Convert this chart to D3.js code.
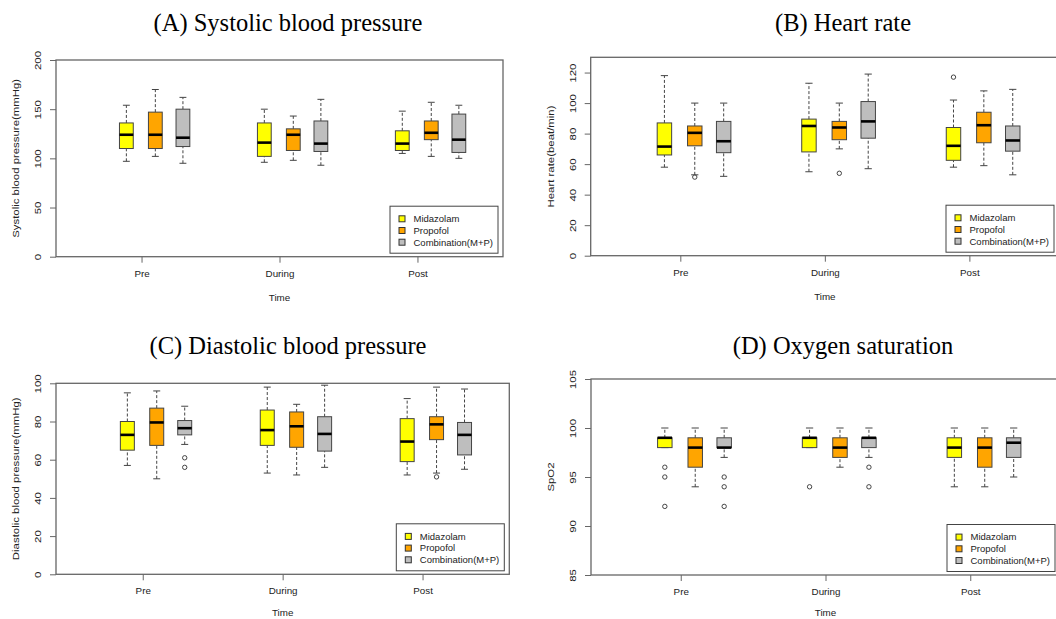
<!DOCTYPE html>
<html>
<head>
<meta charset="utf-8">
<script src="https://cdn.jsdelivr.net/npm/d3@7"></script>
<style>
  body { margin: 0; background: #fff; }
  svg { display: block; font-family: "Liberation Sans", Arial, sans-serif; }
</style>
</head>
<body>
<div id="chart"></div>
<script>
// groups on the x axis and the three drugs
const groups = ["Pre", "During", "Post"];
const drugs = ["Midazolam", "Propofol", "Combination(M+P)"];

// box stats: [lower whisker, Q1, median, Q3, upper whisker]
// order: Pre M, P, C, During M, P, C, Post M, P, C
const sbpBoxes = [
  [97, 110, 124, 136, 154], [102, 110, 124, 147, 170], [95, 112, 121, 150, 162],
  [96, 102, 116, 136, 150], [98, 108, 124, 130, 143], [93, 107, 115, 138, 160],
  [105, 108, 115, 128, 148], [102, 119, 126, 138, 157], [100, 106, 119, 145, 154]
];
const sbpOutliers = [];

const hrBoxes = [
  [58, 66, 71.5, 87, 118], [53, 72, 80.5, 85, 100], [52, 67.5, 75, 88, 100],
  [55, 68, 85, 89.5, 113], [70, 76, 84, 88, 100], [57, 77, 88, 101, 119],
  [58, 62.5, 72, 84, 102], [59, 74, 85.5, 94, 108], [53, 68.5, 75.5, 85, 109]
];
// [box index, value]
const hrOutliers = [[1, 51.5], [4, 54], [6, 117]];

const dbpBoxes = [
  [57, 65, 73, 80, 95], [50, 67.5, 79.5, 87, 96], [68, 73, 76.5, 80.5, 88],
  [53, 67.5, 75.5, 86, 98], [52, 66.5, 77.5, 85, 89], [56, 64.5, 73.5, 82.5, 99],
  [52, 59, 69.5, 81.5, 92], [53, 70.5, 78.5, 82.5, 98], [55, 62.5, 73, 79.5, 97]
];
const dbpOutliers = [[2, 61], [2, 56], [7, 51]];

const spo2Boxes = [
  [98, 98, 99, 99, 100], [94, 96, 98, 99, 100], [97, 98, 98, 99, 100],
  [98, 98, 99, 99, 100], [96, 97, 98, 99, 100], [97, 98, 99, 99, 100],
  [94, 97, 98, 99, 100], [94, 96, 98, 99, 100], [95, 97, 98.5, 99, 100]
];
const spo2Outliers = [[0, 96], [0, 95], [0, 92], [2, 95], [2, 94], [2, 92], [3, 94], [5, 96], [5, 94]];

const sbpTicks = [0, 50, 100, 150, 200];
const hrTicks = [0, 20, 40, 60, 80, 100, 120];
const dbpTicks = [0, 20, 40, 60, 80, 100];
const spo2Ticks = [85, 90, 95, 100, 105];

const fillColors = ["#ffff00", "#ffa500", "#bebebe"];
const offsets = [-0.11, 0.1, 0.3];   // box position inside a group, in x units
const boxWex = 0.1;

const svg = d3.select("#chart").append("svg")
    .attr("width", 1056)
    .attr("height", 619);

svg.append("rect").attr("width", 1056).attr("height", 619).attr("fill", "#fff");

const panels = [
  { title: "(A) Systolic blood pressure", titleX: 288, titleY: 31, ylab: "Systolic blood pressure(mmHg)",
    left: 56, right: 503, top: 60, bottom: 256.7, domain: [0, 200], ticks: sbpTicks,
    boxes: sbpBoxes, outliers: sbpOutliers, timeGap: 44 },
  { title: "(B) Heart rate", titleX: 843, titleY: 31, ylab: "Heart rate(beat/min)",
    left: 590.7, right: 1059, top: 57.3, bottom: 255.7, domain: [0, 130], ticks: hrTicks,
    boxes: hrBoxes, outliers: hrOutliers, timeGap: 44 },
  { title: "(C) Diastolic blood pressure", titleX: 288, titleY: 354, ylab: "Diastolic blood pressure(mmHg)",
    left: 56, right: 509.3, top: 383.3, bottom: 574.3, domain: [0, 100], ticks: dbpTicks,
    boxes: dbpBoxes, outliers: dbpOutliers, timeGap: 42 },
  { title: "(D) Oxygen saturation", titleX: 843, titleY: 354, ylab: "SpO2",
    left: 591, right: 1060, top: 379, bottom: 575, domain: [85, 105], ticks: spo2Ticks,
    boxes: spo2Boxes, outliers: spo2Outliers, timeGap: 41 }
];

panels.forEach(drawPanel);

function drawPanel(p) {
  const g = svg.append("g");
  const x = d3.scaleLinear().domain([0.38, 3.62]).range([p.left, p.right]);
  const y = d3.scaleLinear().domain(p.domain).range([p.bottom, p.top]);

  // title
  g.append("text")
      .attr("x", p.titleX)
      .attr("y", p.titleY)
      .attr("text-anchor", "middle")
      .style("font-family", "'Liberation Serif', 'Times New Roman', serif")
      .style("font-size", "24.5px")
      .attr("fill", "#000")
      .text(p.title);

  const boxes = p.boxes.map((s, i) => ({
    stats: s,
    pos: Math.floor(i / 3) + 1 + offsets[i % 3],
    color: fillColors[i % 3]
  }));

  const bw = x(boxWex) - x(0);
  const b = g.selectAll(".box").data(boxes).enter().append("g").attr("class", "box");

  // whiskers
  b.append("line")
      .attr("x1", d => x(d.pos)).attr("x2", d => x(d.pos))
      .attr("y1", d => y(d.stats[3])).attr("y2", d => y(d.stats[4]))
      .attr("stroke", "#444").attr("stroke-dasharray", "3,2");
  b.append("line")
      .attr("x1", d => x(d.pos)).attr("x2", d => x(d.pos))
      .attr("y1", d => y(d.stats[0])).attr("y2", d => y(d.stats[1]))
      .attr("stroke", "#444").attr("stroke-dasharray", "3,2");
  // staples
  [0, 4].forEach(k => {
    b.append("line")
        .attr("x1", d => x(d.pos) - bw / 4).attr("x2", d => x(d.pos) + bw / 4)
        .attr("y1", d => y(d.stats[k])).attr("y2", d => y(d.stats[k]))
        .attr("stroke", "#444");
  });
  // box
  b.append("rect")
      .attr("x", d => x(d.pos) - bw / 2)
      .attr("width", bw)
      .attr("y", d => y(d.stats[3]))
      .attr("height", d => y(d.stats[1]) - y(d.stats[3]))
      .attr("fill", d => d.color)
      .attr("stroke", "#444");
  // median
  b.append("line")
      .attr("x1", d => x(d.pos) - bw / 2).attr("x2", d => x(d.pos) + bw / 2)
      .attr("y1", d => y(d.stats[2])).attr("y2", d => y(d.stats[2]))
      .attr("stroke", "#000").attr("stroke-width", 2.6);

  // outliers
  g.selectAll(".out").data(p.outliers).enter().append("circle")
      .attr("class", "out")
      .attr("cx", d => x(boxes[d[0]].pos))
      .attr("cy", d => y(d[1]))
      .attr("r", 2.2)
      .attr("fill", "none")
      .attr("stroke", "#444");

  // frame
  g.append("rect")
      .attr("x", p.left).attr("y", p.top)
      .attr("width", p.right - p.left).attr("height", p.bottom - p.top)
      .attr("fill", "none").attr("stroke", "#666").attr("stroke-width", 1.3);

  // y axis
  const ya = g.append("g")
      .attr("transform", `translate(${p.left},0)`)
      .call(d3.axisLeft(y).tickValues(p.ticks).tickSize(6).tickSizeOuter(0));
  ya.select(".domain").remove();
  ya.selectAll(".tick line").attr("stroke", "#666");
  ya.selectAll(".tick text")
      .attr("x", null).attr("dy", "0.35em")
      .attr("transform", "translate(-18,0) rotate(-90) scale(1.2,1)")
      .attr("text-anchor", "middle")
      .style("font-size", "9.5px")
      .attr("fill", "#222");

  g.append("text")
      .attr("transform", `translate(${p.left - 40},${(p.top + p.bottom) / 2}) rotate(-90) scale(1.2,1)`)
      .attr("text-anchor", "middle")
      .attr("dy", "0.35em")
      .style("font-size", "9.5px")
      .attr("fill", "#222")
      .text(p.ylab);

  // x axis
  const xa = g.append("g")
      .attr("transform", `translate(0,${p.bottom})`)
      .call(d3.axisBottom(x).tickValues([1, 2, 3]).tickFormat(i => groups[i - 1]).tickSize(6).tickSizeOuter(0));
  xa.select(".domain").remove();
  xa.selectAll(".tick line").attr("stroke", "#666");
  xa.selectAll(".tick text")
      .attr("y", 13)
      .style("font-size", "9.8px")
      .attr("fill", "#222");

  g.append("text")
      .attr("x", x(2))
      .attr("y", p.bottom + p.timeGap)
      .attr("text-anchor", "middle")
      .style("font-size", "9.8px")
      .attr("fill", "#222")
      .text("Time");

  // legend, bottom right
  const lw = 108, lh = 47;
  const lx = p.right - 5 - lw, ly = p.bottom - 3.5 - lh;
  const leg = g.append("g").attr("transform", `translate(${lx},${ly})`);
  leg.append("rect")
      .attr("width", lw).attr("height", lh)
      .attr("fill", "#fff").attr("stroke", "#444");
  drugs.forEach((name, i) => {
    leg.append("rect")
        .attr("x", 9).attr("y", 12.6 + i * 11.7 - 3)
        .attr("width", 6).attr("height", 6)
        .attr("fill", fillColors[i]).attr("stroke", "#333");
    leg.append("text")
        .attr("x", 23.5).attr("y", 12.6 + i * 11.7)
        .attr("dy", "0.35em")
        .style("font-size", "9.5px")
        .attr("fill", "#222")
        .text(name);
  });
}
</script>
</body>
</html>
